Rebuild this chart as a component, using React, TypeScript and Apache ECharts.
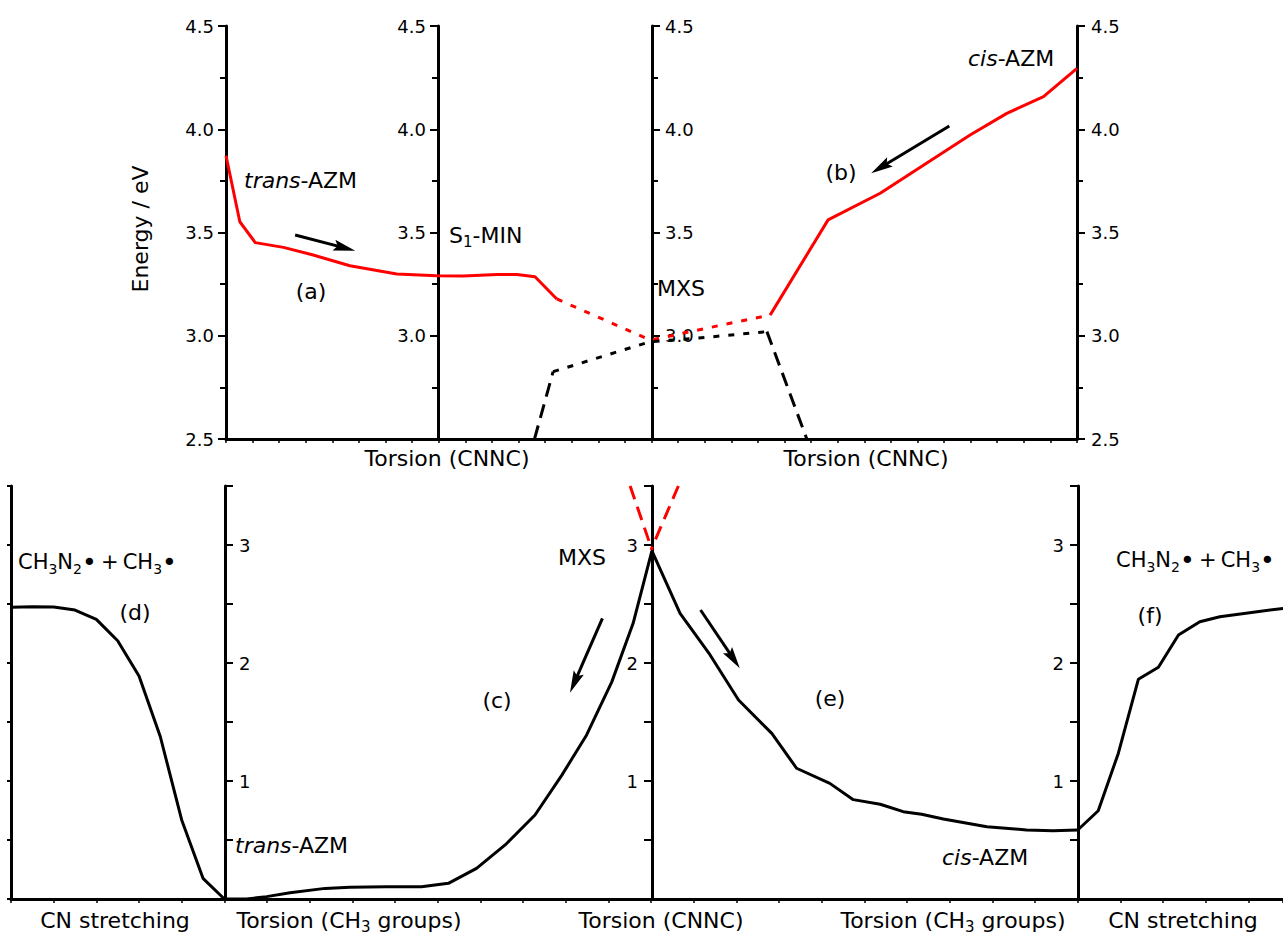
import React, { useEffect, useRef } from 'react';
import * as echarts from 'echarts';

const FONT = '"DejaVu Sans", Arial, sans-serif';

// ---------- Top panel: energy (eV) vs torsion (CNNC), arbitrary x units ----------
const topRedA: [number, number][] = [
  [0, 3.872], [0.26, 3.552], [0.55, 3.451], [1.08, 3.428], [1.64, 3.391], [2.33, 3.339],
  [3.21, 3.299], [3.96, 3.291], [4.46, 3.289], [5.1, 3.297], [5.47, 3.297], [5.81, 3.286], [6.22, 3.178],
];
const topRedDotted: [number, number][] = [[6.22, 3.178], [7.98, 2.979], [9.65, 3.07], [10.23, 3.1]];
const topRedB: [number, number][] = [
  [10.23, 3.1], [11.32, 3.561], [12.3, 3.69], [13.17, 3.835], [13.99, 3.972], [14.68, 4.077], [15.37, 4.158], [16, 4.295],
];
const topBlackDashedL: [number, number][] = [[5.8, 2.5], [6.15, 2.826]];
const topBlackDotted: [number, number][] = [[6.15, 2.826], [7.97, 2.971], [8.85, 2.988], [10.17, 3.02]];
const topBlackDashedR: [number, number][] = [[10.17, 3.02], [10.92, 2.5]];
const topArrows: [number, number][][] = [
  [[1.3, 3.488], [2.43, 3.412]],
  [[13.6, 4.016], [12.13, 3.787]],
];

// ---------- Bottom panel: energy vs CN stretching / torsions ----------
const botD: [number, number][] = [
  [0, 2.472], [0.5, 2.477], [1, 2.475], [1.5, 2.449], [2, 2.37], [2.5, 2.189], [3, 1.89],
  [3.5, 1.375], [4, 0.67], [4.5, 0.175], [5, 0],
];
const botC: [number, number][] = [
  [5, 0], [5.52, 0], [5.99, 0.02], [6.54, 0.053], [7.36, 0.09], [7.94, 0.1], [8.8, 0.104], [9.62, 0.104],
  [10.25, 0.133], [10.91, 0.26], [11.58, 0.458], [12.28, 0.712], [12.91, 1.05], [13.49, 1.39],
  [14.08, 1.84], [14.58, 2.336], [15.02, 2.95],
];
const botE: [number, number][] = [
  [15.02, 2.95], [15.68, 2.42], [16.38, 2.07], [17.05, 1.686], [17.83, 1.404], [18.41, 1.108],
  [19.19, 0.98], [19.74, 0.842], [20.37, 0.803], [20.91, 0.74], [21.34, 0.718], [21.85, 0.678],
  [22.87, 0.613], [23.8, 0.585], [24.42, 0.579], [25, 0.585],
];
const botF: [number, number][] = [
  [25, 0.585], [25.48, 0.748], [25.95, 1.234], [26.42, 1.862], [26.89, 1.964], [27.36, 2.237],
  [27.86, 2.35], [28.33, 2.392], [29.81, 2.463],
];
const botRedL: [number, number][] = [[14.51, 3.5], [15.02, 2.96]];
const botRedR: [number, number][] = [[15.64, 3.5], [15.0, 2.96]];
const botArrows: [number, number][][] = [
  [[13.86, 2.379], [13.1, 1.748]],
  [[16.16, 2.449], [17.08, 1.955]],
];

const topTickFmt = (v: number) => v.toFixed(1);
const topTickFmtNo25 = (v: number) => (v === 2.5 ? '' : v.toFixed(1));
const botTickFmt = (v: number) => (Number.isInteger(v) && v >= 1 ? String(v) : '');

const RICH = {
  n: { font: `22px ${FONT}`, lineHeight: 28 },
  i: { font: `italic 22px ${FONT}`, lineHeight: 28 },
  s: { font: `15px ${FONT}`, lineHeight: 6, verticalAlign: 'bottom' },
  m: { font: `21px ${FONT}`, lineHeight: 28 },
  ms: { font: `14px ${FONT}`, lineHeight: 6, verticalAlign: 'bottom' },
  b: { font: `25px ${FONT}`, lineHeight: 28 },
};

function txt(x: number, y: number, text: string, align = 'left', rotation = 0) {
  return {
    type: 'text',
    x,
    y,
    rotation,
    silent: true,
    style: {
      text,
      fill: '#000',
      font: `22px ${FONT}`,
      align,
      verticalAlign: 'middle',
      textAlign: align,
      textVerticalAlign: 'middle',
      rich: RICH,
    },
  };
}

const RADICALS = '{m|CH}{ms|3}{m|N}{ms|2}{b|•}{m|\u2009+\u2009CH}{ms|3}{b|•}';

const axisLine = { show: true, onZero: false, lineStyle: { color: '#000', width: 3 } };
const tickStyle = { color: '#000', width: 2 };

function topY(position: string, offset: number, fmt: (v: number) => string, margin: number) {
  return {
    gridIndex: 0,
    type: 'value',
    min: 2.5,
    max: 4.5,
    interval: 0.5,
    position,
    offset,
    axisLine,
    axisTick: { show: true, length: 8, lineStyle: tickStyle },
    minorTick: { show: true, splitNumber: 2, length: 6, lineStyle: tickStyle },
    splitLine: { show: false },
    minorSplitLine: { show: false },
    axisLabel: { show: true, formatter: fmt, margin, color: '#000', fontSize: 18, fontFamily: 'DejaVu Sans' },
  };
}

function botY(offset: number, inside: boolean, showLabel: boolean, tickLen: number) {
  return {
    gridIndex: 1,
    type: 'value',
    min: 0,
    max: 3.5,
    interval: 1,
    position: 'left',
    offset,
    axisLine,
    axisTick: { show: true, inside, length: tickLen, lineStyle: tickStyle },
    minorTick: { show: true, splitNumber: 2, length: tickLen, lineStyle: tickStyle },
    splitLine: { show: false },
    minorSplitLine: { show: false },
    axisLabel: {
      show: showLabel,
      inside,
      formatter: botTickFmt,
      margin: 14,
      color: '#000',
      fontSize: 18,
      fontFamily: 'DejaVu Sans',
    },
  };
}

function line(data: [number, number][], color: string, type: any, xi: number, yi: number, z = 3) {
  return {
    type: 'line',
    xAxisIndex: xi,
    yAxisIndex: yi,
    data,
    symbol: 'none',
    showSymbol: false,
    silent: true,
    z,
    lineStyle: { color, width: 3, type, cap: 'butt', join: 'round' },
  };
}

const HEAD_LEN = 22;
const HEAD_W = 11;
const HEAD_PATH = 'path://M0,0 L5,20 L0,16.5 L-5,20 Z';

function shafts(list: [number, number][][], xi: number, yi: number) {
  return {
    type: 'lines',
    coordinateSystem: 'cartesian2d',
    xAxisIndex: xi,
    yAxisIndex: yi,
    silent: true,
    symbol: ['none', 'none'],
    lineStyle: { color: '#000', width: 3, opacity: 1, curveness: 0 },
    data: list.map((c) => ({ coords: c })),
    z: 5,
  };
}

function heads(data: any[], xi: number, yi: number) {
  return {
    type: 'scatter',
    xAxisIndex: xi,
    yAxisIndex: yi,
    silent: true,
    symbol: HEAD_PATH,
    symbolSize: [HEAD_W, HEAD_LEN],
    itemStyle: { color: '#000', opacity: 1 },
    data,
    z: 6,
  };
}

export default function App() {
  const ref = useRef<HTMLDivElement>(null);
  useEffect(() => {
    if (!ref.current) return;
    const chart = echarts.init(ref.current, null, { renderer: 'svg' });
    const DASH = [14, 8];
    const DOT = [6, 9];

    const buildSeries = (topShaft: any[], topHead: any[], botShaft: any[], botHead: any[]) => [
      line(topRedA, '#ff0000', 'solid', 0, 0),
      line(topRedDotted, '#ff0000', DOT, 0, 0),
      line(topRedB, '#ff0000', 'solid', 0, 0),
      line(topBlackDashedL, '#000', DASH, 0, 0),
      line(topBlackDotted, '#000', DOT, 0, 0),
      line(topBlackDashedR, '#000', DASH, 0, 0),
      shafts(topShaft, 0, 0),
      heads(topHead, 0, 0),
      line(botD, '#000', 'solid', 1, 4),
      line(botC, '#000', 'solid', 1, 4),
      line(botE, '#000', 'solid', 1, 4),
      line(botF, '#000', 'solid', 1, 4),
      line(botRedL, '#ff0000', DASH, 1, 4, 4),
      line(botRedR, '#ff0000', DASH, 1, 4, 4),
      shafts(botShaft, 1, 4),
      heads(botHead, 1, 4),
    ];

    chart.setOption({
      animation: false,
      backgroundColor: '#fff',
      grid: [
        { left: 226, top: 26, width: 851, height: 413 },
        { left: 11, top: 486, width: 1272, height: 413 },
      ],
      xAxis: [
        {
          gridIndex: 0,
          type: 'value',
          min: 0,
          max: 16,
          interval: 0.5,
          axisLine,
          axisTick: { show: true, length: 4, lineStyle: { color: '#000', width: 1.5 } },
          axisLabel: { show: false },
          splitLine: { show: false },
        },
        {
          gridIndex: 1,
          type: 'value',
          min: 0,
          max: 29.81,
          interval: 1,
          axisLine,
          axisTick: { show: true, length: 4, lineStyle: { color: '#000', width: 1.5 } },
          axisLabel: { show: false },
          splitLine: { show: false },
        },
      ],
      yAxis: [
        topY('left', 0, topTickFmt, 12),
        topY('left', -212, topTickFmtNo25, 12),
        topY('right', -425, topTickFmtNo25, 13),
        topY('right', 0, topTickFmt, 14),
        botY(0, false, false, 4),
        botY(-214, true, true, 8),
        botY(-641, false, true, 8),
        botY(-1067, false, true, 8),
      ],
      series: buildSeries([], [], [], []),
      graphic: [
        txt(140, 229, 'Energy / eV', 'center', Math.PI / 2),
        txt(244, 180, '{i|trans}{n|-AZM}'),
        txt(311, 291, '(a)', 'center'),
        txt(449, 235, '{n|S}{s|1}{n|-MIN}'),
        txt(657, 288, 'MXS'),
        txt(968, 58, '{i|cis}{n|-AZM}'),
        txt(841, 172, '(b)', 'center'),
        txt(447, 458, 'Torsion (CNNC)', 'center'),
        txt(866, 458, 'Torsion (CNNC)', 'center'),
        txt(18, 562, RADICALS),
        txt(135, 612, '(d)', 'center'),
        txt(235, 845, '{i|trans}{n|-AZM}'),
        txt(558, 557, 'MXS'),
        txt(497, 700, '(c)', 'center'),
        txt(830, 698, '(e)', 'center'),
        txt(942, 857, '{i|cis}{n|-AZM}'),
        txt(1150, 615, '(f)', 'center'),
        txt(1116, 560, RADICALS),
        txt(115, 920, 'CN stretching', 'center'),
        txt(349, 920, '{n|Torsion (CH}{s|3}{n| groups)}', 'center'),
        txt(661, 920, 'Torsion (CNNC)', 'center'),
        txt(953, 920, '{n|Torsion (CH}{s|3}{n| groups)}', 'center'),
        txt(1183, 920, 'CN stretching', 'center'),
      ],
    });

    // Arrow heads: orient the head along each arrow in pixel space.
    const arrowParts = (list: [number, number][][], finder: any) => {
      const shaftList: [number, number][][] = [];
      const headList: any[] = [];
      list.forEach(([a, b]) => {
        const p1 = chart.convertToPixel(finder, a) as number[];
        const p2 = chart.convertToPixel(finder, b) as number[];
        const dx = p2[0] - p1[0];
        const dy = p2[1] - p1[1];
        const len = Math.hypot(dx, dy) || 1;
        const ux = dx / len;
        const uy = dy / len;
        const c = [p2[0] - ux * HEAD_LEN * 0.5, p2[1] - uy * HEAD_LEN * 0.5];
        const cData = chart.convertFromPixel(finder, c) as number[];
        const rot = (Math.atan2(-dy, dx) * 180) / Math.PI - 90;
        shaftList.push([a, [cData[0], cData[1]]]);
        headList.push({ value: [cData[0], cData[1]], symbolRotate: rot });
      });
      return [shaftList, headList];
    };
    const [ts, th] = arrowParts(topArrows, { xAxisIndex: 0, yAxisIndex: 0 });
    const [bs, bh] = arrowParts(botArrows, { xAxisIndex: 1, yAxisIndex: 4 });
    chart.setOption({ series: buildSeries(ts, th, bs, bh) });

    return () => chart.dispose();
  }, []);
  return (
    <div
      ref={ref}
      style={{ position: 'fixed', left: 0, top: 0, width: 1283, height: 938, background: '#fff' }}
    />
  );
}
